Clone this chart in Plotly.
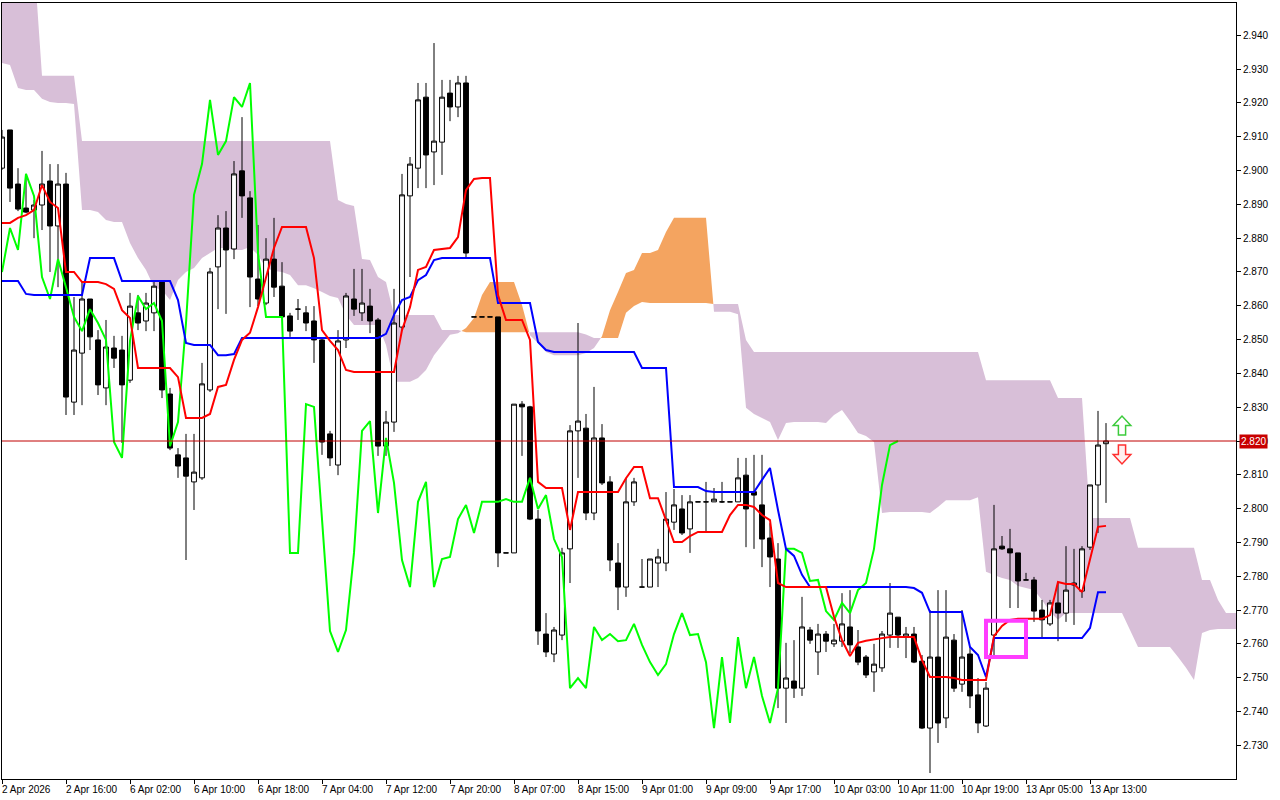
import plotly.graph_objects as go

# ---------------- data (H1 bars, index 0..138) ----------------
opens = [2.9007, 2.9120, 2.8960, 2.8889, 2.8883, 2.8898, 2.8969, 2.8836, 2.8960, 2.8315,
         2.8460, 2.8620, 2.8499, 2.8357, 2.8475, 2.8469, 2.8380, 2.8579, 2.8555, 2.8579,
         2.8670, 2.8339, 2.8159, 2.8150, 2.8079, 2.8091, 2.8351, 2.8715, 2.8830, 2.8768,
         2.8999, 2.8919, 2.8679, 2.8608, 2.8738, 2.8658, 2.8570, 2.8590, 2.8579, 2.8555,
         2.8499, 2.8221, 2.8129, 2.8499, 2.8620, 2.8579, 2.8599, 2.8558, 2.8185, 2.8256,
         2.8537, 2.8925, 2.9007, 2.9217, 2.9055, 2.9084, 2.9229, 2.9188, 2.9259, 2.8567,
         2.8567, 2.8567, 2.8567, 2.7869, 2.7869, 2.8309, 2.8301, 2.7969, 2.7629, 2.7570,
         2.7626, 2.7881, 2.8230, 2.8238, 2.7987, 2.8209, 2.8079, 2.7839, 2.7768, 2.8020,
         2.7768, 2.7768, 2.7839, 2.7839, 2.7960, 2.7999, 2.7940, 2.8020, 2.8020, 2.8020,
         2.8020, 2.8020, 2.8020, 2.8099, 2.8050, 2.8011, 2.7913, 2.7851, 2.7469, 2.7490,
         2.7469, 2.7641, 2.7576, 2.7629, 2.7600, 2.7608, 2.7650, 2.7591, 2.7561, 2.7517,
         2.7529, 2.7626, 2.7679, 2.7620, 2.7629, 2.7549, 2.7351, 2.7561, 2.7381, 2.7611,
         2.7481, 2.7570, 2.7449, 2.7357, 2.7626, 2.7889, 2.7881, 2.7869, 2.7789, 2.7789,
         2.7700, 2.7659, 2.7721, 2.7691, 2.7774, 2.7756, 2.7886, 2.8070, 2.8192]

highs = [2.9120, 2.9120, 2.9007, 2.8990, 2.8913, 2.9058, 2.9019, 2.9019, 2.8993, 2.8626,
         2.8670, 2.8620, 2.8528, 2.8558, 2.8511, 2.8511, 2.8638, 2.8632, 2.8638, 2.8676,
         2.8676, 2.8357, 2.8179, 2.8221, 2.8221, 2.8431, 2.8712, 2.8868, 2.8880, 2.9028,
         2.9158, 2.8939, 2.8839, 2.8800, 2.8860, 2.8729, 2.8579, 2.8620, 2.8599, 2.8599,
         2.8505, 2.8230, 2.8528, 2.8638, 2.8709, 2.8709, 2.8650, 2.8564, 2.8289, 2.8650,
         2.8990, 2.9040, 2.9259, 2.9259, 2.9377, 2.9268, 2.9268, 2.9280, 2.9280, 2.8567,
         2.8567, 2.8567, 2.8567, 2.7869, 2.8309, 2.8318, 2.8304, 2.7996, 2.7691, 2.7650,
         2.7884, 2.8247, 2.8549, 2.8280, 2.8360, 2.8250, 2.8096, 2.7898, 2.8091, 2.8091,
         2.7851, 2.7851, 2.7881, 2.8049, 2.8058, 2.8040, 2.8040, 2.8020, 2.8079, 2.8061,
         2.8079, 2.8020, 2.8150, 2.8150, 2.8159, 2.8159, 2.7957, 2.7898, 2.7603, 2.7611,
         2.7739, 2.7650, 2.7659, 2.7638, 2.7659, 2.7750, 2.7759, 2.7641, 2.7567, 2.7600,
         2.7638, 2.7780, 2.7679, 2.7650, 2.7650, 2.7567, 2.7700, 2.7759, 2.7759, 2.7629,
         2.7700, 2.7591, 2.7499, 2.7487, 2.8011, 2.7919, 2.7940, 2.7869, 2.7810, 2.7798,
         2.7730, 2.7730, 2.7780, 2.7889, 2.7881, 2.7889, 2.8070, 2.8289, 2.8253]

lows = [2.9002, 2.8907, 2.8880, 2.8874, 2.8800, 2.8824, 2.8700, 2.8655, 2.8277, 2.8277,
        2.8306, 2.8469, 2.8336, 2.8306, 2.8416, 2.8194, 2.8372, 2.8528, 2.8525, 2.8525,
        2.8327, 2.8173, 2.8091, 2.7848, 2.7996, 2.8085, 2.8345, 2.8590, 2.8576, 2.8738,
        2.8860, 2.8596, 2.8599, 2.8602, 2.8626, 2.8564, 2.8508, 2.8558, 2.8525, 2.8431,
        2.8159, 2.8126, 2.8099, 2.8475, 2.8570, 2.8555, 2.8519, 2.8156, 2.8156, 2.8227,
        2.8528, 2.8685, 2.8948, 2.8948, 2.8957, 2.8987, 2.9146, 2.9158, 2.8741, 2.8567,
        2.8567, 2.8567, 2.7827, 2.7869, 2.7869, 2.8156, 2.7966, 2.7597, 2.7561, 2.7546,
        2.7611, 2.7780, 2.8091, 2.7966, 2.7966, 2.8070, 2.7815, 2.7700, 2.7739, 2.8008,
        2.7768, 2.7768, 2.7768, 2.7815, 2.7937, 2.7922, 2.7869, 2.8020, 2.7931, 2.8020,
        2.8017, 2.8020, 2.8020, 2.7886, 2.7881, 2.7827, 2.7768, 2.7410, 2.7366, 2.7440,
        2.7446, 2.7600, 2.7508, 2.7576, 2.7591, 2.7591, 2.7573, 2.7537, 2.7499, 2.7458,
        2.7517, 2.7588, 2.7588, 2.7558, 2.7543, 2.7348, 2.7218, 2.7307, 2.7351, 2.7458,
        2.7458, 2.7410, 2.7336, 2.7354, 2.7567, 2.7878, 2.7706, 2.7706, 2.7789, 2.7665,
        2.7617, 2.7653, 2.7608, 2.7665, 2.7656, 2.7736, 2.7878, 2.7928, 2.8017]

closes = [2.9099, 2.8948, 2.8886, 2.8877, 2.8898, 2.8960, 2.8836, 2.8960, 2.8330, 2.8469,
          2.8620, 2.8508, 2.8366, 2.8478, 2.8445, 2.8366, 2.8599, 2.8549, 2.8608, 2.8658,
          2.8351, 2.8179, 2.8126, 2.8096, 2.8108, 2.8369, 2.8700, 2.8830, 2.8765, 2.8990,
          2.8925, 2.8685, 2.8620, 2.8738, 2.8655, 2.8567, 2.8525, 2.8590, 2.8549, 2.8499,
          2.8197, 2.8150, 2.8496, 2.8629, 2.8590, 2.8608, 2.8555, 2.8185, 2.8256, 2.8549,
          2.8928, 2.9019, 2.9209, 2.9046, 2.9087, 2.9217, 2.9188, 2.9259, 2.8756, 2.8567,
          2.8567, 2.8567, 2.7869, 2.7869, 2.8309, 2.8301, 2.7969, 2.7638, 2.7576, 2.7641,
          2.7869, 2.8230, 2.8259, 2.7987, 2.8209, 2.8076, 2.7848, 2.7768, 2.8020, 2.8079,
          2.7768, 2.7851, 2.7857, 2.7969, 2.8011, 2.7928, 2.8020, 2.8020, 2.8020, 2.8028,
          2.8020, 2.8020, 2.8091, 2.7999, 2.8040, 2.7910, 2.7857, 2.7469, 2.7499, 2.7469,
          2.7650, 2.7611, 2.7629, 2.7608, 2.7611, 2.7659, 2.7597, 2.7546, 2.7508, 2.7540,
          2.7629, 2.7691, 2.7626, 2.7629, 2.7546, 2.7351, 2.7561, 2.7366, 2.7620, 2.7469,
          2.7561, 2.7446, 2.7366, 2.7469, 2.7881, 2.7881, 2.7869, 2.7786, 2.7789, 2.7697,
          2.7671, 2.7721, 2.7691, 2.7759, 2.7780, 2.7881, 2.8070, 2.8188, 2.8200]

# Tenkan-sen (red)
tenkan = [2.8845, 2.8845, 2.8860, 2.8868, 2.8883, 2.8957, 2.8907, 2.8889, 2.8700, 2.8700,
          2.8670, 2.8670, 2.8670, 2.8664, 2.8650, 2.8587, 2.8564, 2.8416, 2.8416, 2.8416,
          2.8416, 2.8416, 2.8389, 2.8268, 2.8268, 2.8268, 2.8280, 2.8360, 2.8366, 2.8440,
          2.8499, 2.8520, 2.8596, 2.8685, 2.8771, 2.8833, 2.8833, 2.8833, 2.8833, 2.8741,
          2.8528, 2.8496, 2.8469, 2.8410, 2.8404, 2.8404, 2.8404, 2.8404, 2.8404, 2.8404,
          2.8528, 2.8596, 2.8706, 2.8715, 2.8765, 2.8768, 2.8771, 2.8803, 2.8942, 2.8975,
          2.8978, 2.8978, 2.8632, 2.8558, 2.8558, 2.8558, 2.8499, 2.8079, 2.8061, 2.8061,
          2.8061, 2.7937, 2.8049, 2.8049, 2.8049, 2.8049, 2.8049, 2.8049, 2.8090, 2.8123,
          2.8123, 2.8031, 2.8031, 2.7966, 2.7901, 2.7901, 2.7919, 2.7931, 2.7931, 2.7931,
          2.7931, 2.7981, 2.8011, 2.8011, 2.8005, 2.7981, 2.7966, 2.7780, 2.7768, 2.7768,
          2.7768, 2.7768, 2.7768, 2.7768, 2.7680, 2.7611, 2.7564, 2.7603, 2.7609, 2.7614,
          2.7617, 2.7620, 2.7620, 2.7620, 2.7620, 2.7552, 2.7502, 2.7502, 2.7502, 2.7499,
          2.7493, 2.7493, 2.7493, 2.7493, 2.7623, 2.7653, 2.7671, 2.7674, 2.7674, 2.7674,
          2.7674, 2.7685, 2.7783, 2.7777, 2.7777, 2.7753, 2.7848, 2.7946, 2.7949]

# Kijun-sen (blue)
kijun = [2.8673, 2.8673, 2.8673, 2.8635, 2.8632, 2.8632, 2.8632, 2.8632, 2.8632, 2.8632,
         2.8632, 2.8741, 2.8741, 2.8741, 2.8741, 2.8673, 2.8673, 2.8673, 2.8673, 2.8673,
         2.8673, 2.8673, 2.8617, 2.8490, 2.8484, 2.8484, 2.8484, 2.8454, 2.8454, 2.8457,
         2.8505, 2.8505, 2.8505, 2.8505, 2.8505, 2.8505, 2.8505, 2.8505, 2.8505, 2.8505,
         2.8505, 2.8505, 2.8505, 2.8505, 2.8505, 2.8505, 2.8505, 2.8505, 2.8517, 2.8573,
         2.8617, 2.8626, 2.8676, 2.8691, 2.8735, 2.8741, 2.8741, 2.8741, 2.8741, 2.8741,
         2.8741, 2.8741, 2.8608, 2.8608, 2.8608, 2.8608, 2.8608, 2.8493, 2.8469, 2.8463,
         2.8463, 2.8463, 2.8463, 2.8463, 2.8463, 2.8463, 2.8463, 2.8463, 2.8463, 2.8463,
         2.8416, 2.8416, 2.8416, 2.8416, 2.8064, 2.8064, 2.8064, 2.8064, 2.8052, 2.8049,
         2.8049, 2.8049, 2.8049, 2.8049, 2.8049, 2.8085, 2.8120, 2.7996, 2.7881, 2.7860,
         2.7804, 2.7768, 2.7768, 2.7768, 2.7768, 2.7768, 2.7768, 2.7768, 2.7768, 2.7768,
         2.7768, 2.7768, 2.7768, 2.7768, 2.7765, 2.7751, 2.7694, 2.7694, 2.7694, 2.7694,
         2.7694, 2.7591, 2.7567, 2.7502, 2.7617, 2.7617, 2.7617, 2.7617, 2.7617, 2.7617,
         2.7617, 2.7617, 2.7617, 2.7617, 2.7617, 2.7617, 2.7647, 2.7753, 2.7753]

# Senkou Span A / B (cloud, already shifted forward; index 0..155)
span_a = [2.9318, 2.9312, 2.9244, 2.9238, 2.9238, 2.9212, 2.9203, 2.9200, 2.9200, 2.9197,
          2.8883, 2.8883, 2.8877, 2.8854, 2.8848, 2.8848, 2.8786, 2.8741, 2.8706, 2.8655,
          2.8647, 2.8617, 2.8676, 2.8700, 2.8712, 2.8741, 2.8756, 2.8771, 2.8771, 2.8765,
          2.8765, 2.8774, 2.8750, 2.8712, 2.8703, 2.8700, 2.8691, 2.8661, 2.8661, 2.8652,
          2.8641, 2.8629, 2.8623, 2.8573, 2.8543, 2.8543, 2.8543, 2.8543, 2.8484, 2.8375,
          2.8375, 2.8375, 2.8386, 2.8410, 2.8454, 2.8484, 2.8514, 2.8519, 2.8534, 2.8564,
          2.8632, 2.8670, 2.8670, 2.8670, 2.8670, 2.8602, 2.8513, 2.8490, 2.8463, 2.8454,
          2.8454, 2.8454, 2.8454, 2.8460, 2.8475, 2.8510, 2.8587, 2.8641, 2.8697, 2.8706,
          2.8756, 2.8756, 2.8765, 2.8818, 2.8860, 2.8860, 2.8860, 2.8860, 2.8860, 2.8582,
          2.8582, 2.8582, 2.8575, 2.8298, 2.8280, 2.8268, 2.8256, 2.8203, 2.8253, 2.8256,
          2.8256, 2.8256, 2.8256, 2.8253, 2.8277, 2.8292, 2.8259, 2.8224, 2.8215, 2.8197,
          2.7987, 2.7990, 2.7990, 2.7990, 2.7990, 2.7990, 2.7987, 2.8005, 2.8025, 2.8025,
          2.8025, 2.8025, 2.8034, 2.7813, 2.7804, 2.7795, 2.7789, 2.7771, 2.7765, 2.7759,
          2.7730, 2.7694, 2.7671, 2.7691, 2.7691, 2.7691, 2.7691, 2.7691, 2.7691, 2.7691,
          2.7691, 2.7641, 2.7591, 2.7591, 2.7591, 2.7591, 2.7591, 2.7561, 2.7529, 2.7493,
          2.7632, 2.7641, 2.7644, 2.7644, 2.7644, 2.7644]

span_b = [2.9624, 2.9624, 2.9624, 2.9624, 2.9624, 2.9280, 2.9280, 2.9280, 2.9280, 2.9280,
          2.9087, 2.9087, 2.9087, 2.9087, 2.9087, 2.9087, 2.9087, 2.9087, 2.9087, 2.9087,
          2.9087, 2.9087, 2.9087, 2.9087, 2.9087, 2.9087, 2.9087, 2.9087, 2.9087, 2.9087,
          2.9087, 2.9087, 2.9087, 2.9087, 2.9087, 2.9087, 2.9087, 2.9087, 2.9087, 2.9087,
          2.9087, 2.9087, 2.8913, 2.8901, 2.8895, 2.8738, 2.8735, 2.8685, 2.8670, 2.8573,
          2.8573, 2.8573, 2.8573, 2.8573, 2.8573, 2.8528, 2.8528, 2.8528, 2.8522, 2.8522,
          2.8522, 2.8522, 2.8522, 2.8522, 2.8522, 2.8522, 2.8522, 2.8522, 2.8522, 2.8522,
          2.8522, 2.8522, 2.8522, 2.8515, 2.8505, 2.8505, 2.8505, 2.8505, 2.8579, 2.8599,
          2.8611, 2.8608, 2.8608, 2.8608, 2.8608, 2.8608, 2.8608, 2.8608, 2.8608, 2.8605,
          2.8605, 2.8605, 2.8605, 2.8499, 2.8463, 2.8463, 2.8463, 2.8463, 2.8463, 2.8463,
          2.8463, 2.8463, 2.8463, 2.8463, 2.8463, 2.8463, 2.8463, 2.8463, 2.8463, 2.8463,
          2.8463, 2.8463, 2.8463, 2.8463, 2.8463, 2.8463, 2.8463, 2.8463, 2.8463, 2.8463,
          2.8463, 2.8463, 2.8463, 2.8380, 2.8380, 2.8380, 2.8380, 2.8380, 2.8380, 2.8380,
          2.8380, 2.8380, 2.8327, 2.8327, 2.8327, 2.8327, 2.7972, 2.7972, 2.7972, 2.7972,
          2.7972, 2.7972, 2.7884, 2.7884, 2.7884, 2.7884, 2.7884, 2.7884, 2.7884, 2.7884,
          2.7789, 2.7789, 2.7730, 2.7691, 2.7691, 2.7691]

tick_idx = [0, 8, 16, 24, 32, 40, 48, 56, 64, 72, 80, 88, 96, 104, 112, 120, 128, 136]
tick_labels = ["2 Apr 2026", "2 Apr 16:00", "6 Apr 02:00", "6 Apr 10:00", "6 Apr 18:00",
               "7 Apr 04:00", "7 Apr 12:00", "7 Apr 20:00", "8 Apr 07:00", "8 Apr 15:00",
               "9 Apr 01:00", "9 Apr 09:00", "9 Apr 17:00", "10 Apr 03:00", "10 Apr 11:00",
               "10 Apr 19:00", "13 Apr 05:00", "13 Apr 13:00"]
price_ticks = [2.730, 2.740, 2.750, 2.760, 2.770, 2.780, 2.790, 2.800, 2.810, 2.820,
               2.830, 2.840, 2.850, 2.860, 2.870, 2.880, 2.890, 2.900, 2.910, 2.920,
               2.930, 2.940]
last_price = 2.820
chikou_shift = 26

# drawn objects
box_bars = [123, 128]
box_prices = [2.7561, 2.7668]
buy_arrow = [140, 2.8218, 2.8274]    # bar, base, tip
sell_arrow = [140, 2.8188, 2.8132]   # bar, base, tip

FONT = "Liberation Sans"
n = len(closes)
bars = list(range(n))

fig = go.Figure()

# ---------------- Kumo (cloud) as filled polygons below everything ----------------
def cloud_polygons(a, b):
    pts = []
    for i in range(len(a)):
        pts.append((float(i), a[i], b[i]))
        if i + 1 < len(a):
            d0 = a[i] - b[i]
            d1 = a[i + 1] - b[i + 1]
            if d0 * d1 < 0:
                t = d0 / (d0 - d1)
                yc = a[i] + t * (a[i + 1] - a[i])
                pts.append((i + t, yc, yc))
    polys = []
    cur = []
    sign = 0
    for p in pts:
        d = p[1] - p[2]
        s = 1 if d > 0 else (-1 if d < 0 else 0)
        cur.append(p)
        if s == 0:
            if sign != 0 and len(cur) > 1:
                polys.append((sign, cur))
            cur = [p]
            sign = 0
        else:
            sign = s
    if sign != 0 and len(cur) > 1:
        polys.append((sign, cur))
    return polys

shapes = []
for sign, pts in cloud_polygons(span_a, span_b):
    upper = [(x, max(pa, pb)) for x, pa, pb in pts]
    lower = [(x, min(pa, pb)) for x, pa, pb in pts][::-1]
    path = "M " + " L ".join(f"{x:.4f},{y:.5f}" for x, y in upper + lower) + " Z"
    shapes.append(dict(type="path", path=path, xref="x", yref="y",
                       fillcolor="#F4A460" if sign > 0 else "#D8BFD8",
                       line=dict(width=0), layer="below"))

# ---------------- candles ----------------
fig.add_trace(go.Candlestick(
    x=bars, open=opens, high=highs, low=lows, close=closes,
    increasing=dict(line=dict(color="black", width=1), fillcolor="white"),
    decreasing=dict(line=dict(color="black", width=1), fillcolor="black"),
    whiskerwidth=0, hoverinfo="skip", showlegend=False))

# Chikou span (close shifted back 26 bars)
fig.add_trace(go.Scatter(x=bars[:n - chikou_shift], y=closes[chikou_shift:], mode="lines",
                         line=dict(color="#00FF00", width=2), hoverinfo="skip", showlegend=False))
fig.add_trace(go.Scatter(x=bars, y=kijun, mode="lines",
                         line=dict(color="#0000FF", width=2), hoverinfo="skip", showlegend=False))
fig.add_trace(go.Scatter(x=bars, y=tenkan, mode="lines",
                         line=dict(color="#FF0000", width=2), hoverinfo="skip", showlegend=False))

# current price line
shapes.append(dict(type="line", xref="paper", x0=0, x1=1, yref="y", y0=last_price, y1=last_price,
                   line=dict(color="#C00000", width=1), layer="above"))

# magenta rectangle object
shapes.append(dict(type="rect", xref="x", yref="y", x0=box_bars[0], x1=box_bars[1],
                   y0=box_prices[0], y1=box_prices[1],
                   line=dict(color="#FF3DFF", width=4), fillcolor="rgba(0,0,0,0)", layer="above"))

def arrow_path(xc, y_base, y_tip, hw=1.1, sw=0.45):
    y_neck = y_base + (y_tip - y_base) * 0.5
    pts = [(xc - sw, y_base), (xc - sw, y_neck), (xc - hw, y_neck), (xc, y_tip),
           (xc + hw, y_neck), (xc + sw, y_neck), (xc + sw, y_base)]
    return "M " + " L ".join(f"{x:.3f},{y:.5f}" for x, y in pts) + " Z"

shapes.append(dict(type="path", xref="x", yref="y", path=arrow_path(*buy_arrow),
                   fillcolor="white", line=dict(color="#3CCB3C", width=1.5), layer="above"))
shapes.append(dict(type="path", xref="x", yref="y", path=arrow_path(*sell_arrow),
                   fillcolor="#FFF0F0", line=dict(color="#FF3030", width=1.5), layer="above"))

annotations = []
for i, lab in zip(tick_idx, tick_labels):
    annotations.append(dict(x=i, y=0, xref="x", yref="paper", text=lab, showarrow=False,
                            xanchor="left", yanchor="top", yshift=-3, xshift=-2,
                            font=dict(family=FONT, size=10, color="black")))
annotations.append(dict(x=1, xref="paper", y=last_price, yref="y", text=f"{last_price:.3f}",
                        showarrow=False, xanchor="left", xshift=3, bgcolor="#C80000",
                        borderpad=1, font=dict(family=FONT, size=10, color="white")))

fig.update_layout(
    width=1280, height=800,
    margin=dict(l=2, r=44, t=3, b=21),
    paper_bgcolor="white", plot_bgcolor="white",
    showlegend=False,
    boxgap=0.22, boxgroupgap=0.22,
    shapes=shapes, annotations=annotations,
    xaxis=dict(range=[0, 154.25], showgrid=False, zeroline=False, showline=True, mirror=True,
               linecolor="black", linewidth=1, ticks="outside", ticklen=4, tickcolor="black",
               tickvals=tick_idx, showticklabels=False, rangeslider=dict(visible=False)),
    yaxis=dict(side="right", range=[2.72003, 2.94955], showgrid=False, zeroline=False,
               showline=True, mirror=True, linecolor="black", linewidth=1,
               ticks="outside", ticklen=4, tickcolor="black",
               tickvals=price_ticks, ticktext=[f"{v:.3f}" for v in price_ticks],
               tickfont=dict(family=FONT, size=10, color="black")),
)

fig.write_html("out.html", config={"displayModeBar": False},
               post_script="document.body.style.margin='0';document.body.style.overflow='hidden';")
